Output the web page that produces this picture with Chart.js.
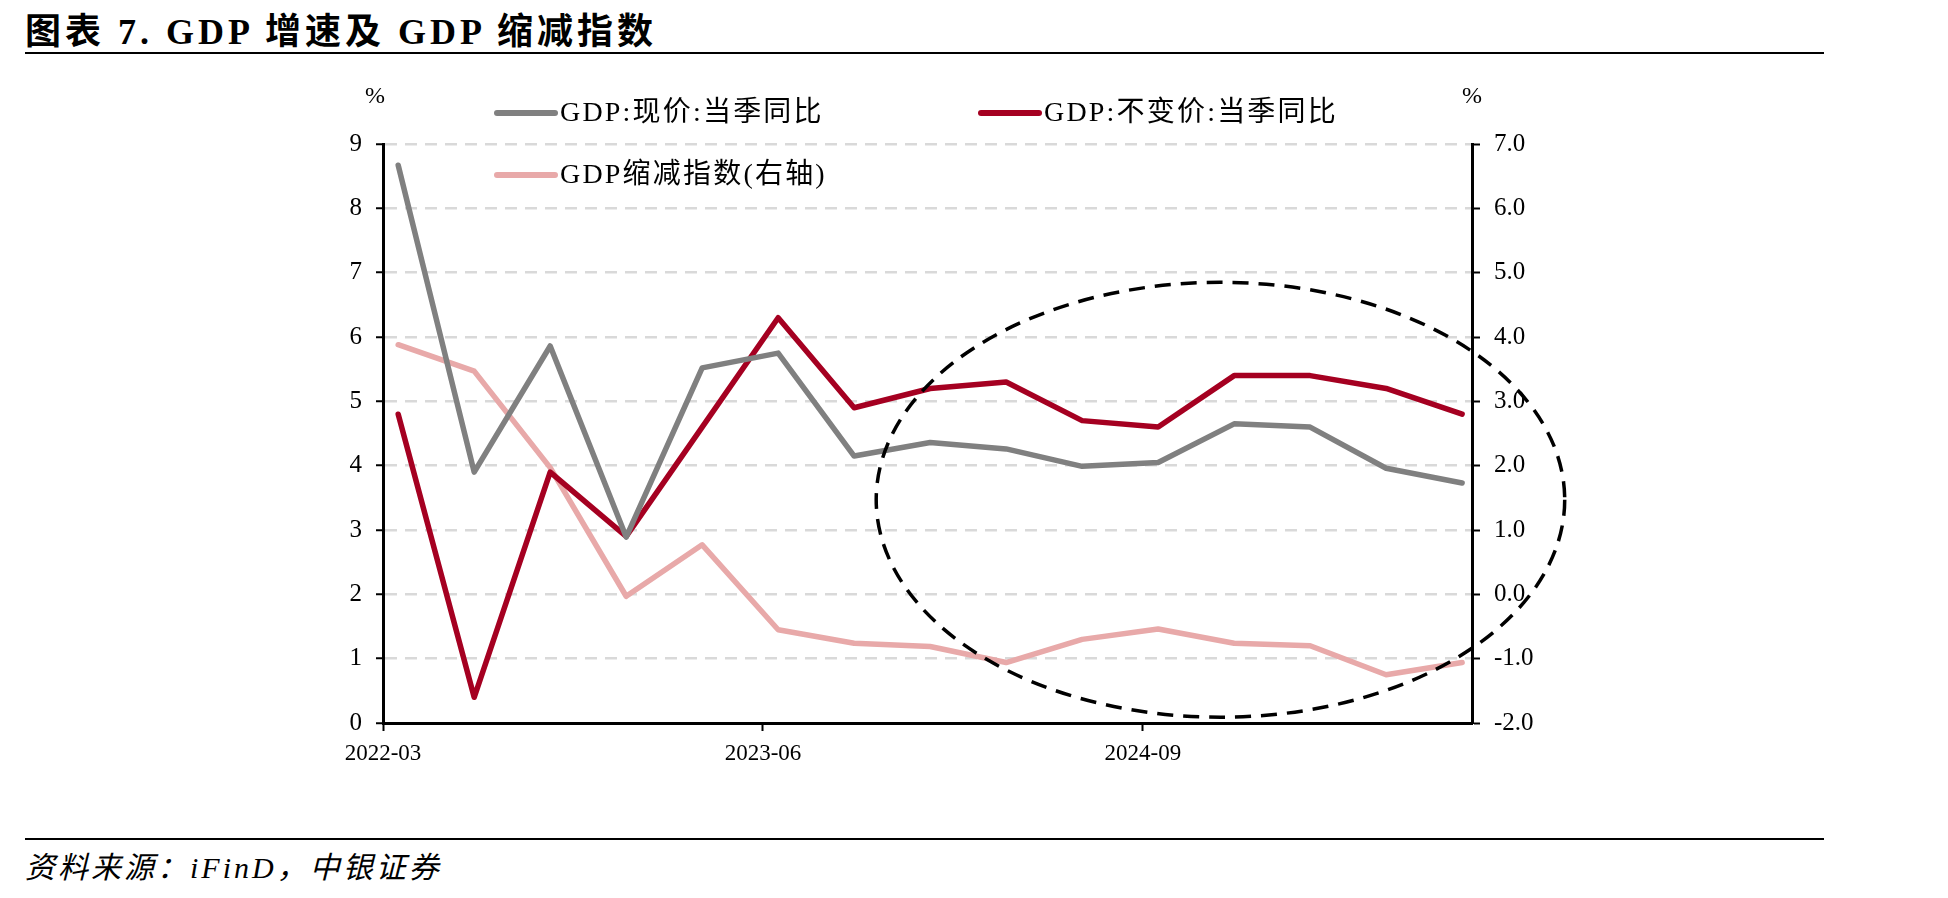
<!DOCTYPE html>
<html><head><meta charset="utf-8">
<script src="https://cdn.jsdelivr.net/npm/chart.js@4"></script>
<style>
html,body{margin:0;padding:0;background:#fff;}
#wrap{position:relative;width:1948px;height:898px;overflow:hidden;background:#fff;}
#title{position:absolute;left:25px;top:2px;font:bold 36px "Liberation Serif","Noto Sans CJK SC",serif;letter-spacing:4px;white-space:nowrap;color:#000;}
.rule{position:absolute;left:25px;width:1799px;height:2px;background:#000;}
#src{position:absolute;left:25px;top:843px;font:italic 30px "Liberation Serif","Noto Sans CJK SC",serif;letter-spacing:3px;white-space:nowrap;color:#000;}
canvas{position:absolute;left:0;top:0;}
</style></head>
<body><div id="wrap">
<div id="title">图表 7. GDP 增速及 GDP 缩减指数</div>
<div class="rule" style="top:52px"></div>
<div class="rule" style="top:838px"></div>
<div id="src">资料来源：iFinD，中银证券</div>
<canvas id="c" width="1948" height="898"></canvas>
</div>
<script>
// ---- data ----
const categories = ['2022-03','2022-06','2022-09','2022-12','2023-03','2023-06','2023-09','2023-12','2024-03','2024-06','2024-09','2024-12','2025-03','2025-06','2025-09'];
const nominalGdp = [8.67,3.90,5.86,2.89,5.52,5.75,4.15,4.36,4.26,3.99,4.05,4.65,4.60,3.96,3.73];
const realGdp    = [4.8,0.4,3.9,2.9,4.6,6.3,4.9,5.2,5.3,4.7,4.6,5.4,5.4,5.2,4.8];
const deflator   = [3.88,3.47,1.97,-0.03,0.77,-0.55,-0.76,-0.81,-1.06,-0.70,-0.54,-0.76,-0.80,-1.25,-1.06];
const seriesNames = ['GDP:现价:当季同比','GDP:不变价:当季同比','GDP缩减指数(右轴)'];
const xTickLabels = ['2022-03','2023-06','2024-09'];
const leftRange = [0, 9];
const rightRange = [-2, 7];

// ---- style ----
const FONT = '"Liberation Serif","Noto Sans CJK SC",serif';
const COLORS = ['#808080', '#A50021', '#E8A9A9'];
const X_SHIFT = -0.2;          // tick marks sit slightly before the quarter point
const X_MIN = -0.2, X_MAX = 14.13;

const toXY = arr => arr.map((v, i) => ({x: i, y: v}));

const legendPlugin = {
  id: 'customLegend',
  afterDraw(chart) {
    const ctx = chart.ctx;
    const items = [
      {i: 0, x: 497, y: 113},
      {i: 1, x: 981, y: 113},
      {i: 2, x: 497, y: 175}
    ];
    ctx.save();
    ctx.font = '28px ' + FONT;
    if ('letterSpacing' in ctx) ctx.letterSpacing = '2.2px';
    ctx.textBaseline = 'middle';
    ctx.fillStyle = '#000';
    items.forEach(it => {
      const ds = chart.data.datasets[it.i];
      ctx.strokeStyle = ds.borderColor;
      ctx.lineWidth = 6;
      ctx.lineCap = 'round';
      ctx.beginPath();
      ctx.moveTo(it.x, it.y);
      ctx.lineTo(it.x + 58, it.y);
      ctx.stroke();
      ctx.fillText(ds.label, it.x + 63, it.y + 1);
    });
    if ('letterSpacing' in ctx) ctx.letterSpacing = '0px';
    // unit labels
    ctx.font = '24px ' + FONT;
    ctx.textAlign = 'center';
    ctx.fillText('%', chart.chartArea.left - 8, 97);
    ctx.fillText('%', chart.chartArea.right, 97);
    ctx.restore();
  }
};

const ellipsePlugin = {
  id: 'ellipse',
  afterDraw(chart) {
    const xs = chart.scales.x, ys = chart.scales.y;
    const E = {cx: 10.82, cy: 3.47, rx: 4.53, ry: 3.38};
    const cx = xs.getPixelForValue(E.cx), cy = ys.getPixelForValue(E.cy);
    const rx = xs.getPixelForValue(E.cx + E.rx) - cx;
    const ry = cy - ys.getPixelForValue(E.cy + E.ry);
    const ctx = chart.ctx;
    ctx.save();
    ctx.strokeStyle = '#000';
    ctx.lineWidth = 3.5;
    ctx.setLineDash([16, 10]);
    ctx.beginPath();
    ctx.ellipse(cx, cy, rx, ry, 0, 0, Math.PI * 2);
    ctx.stroke();
    ctx.restore();
  }
};

Chart.defaults.font.family = FONT;
Chart.defaults.color = '#000';

new Chart(document.getElementById('c'), {
  type: 'line',
  data: {
    datasets: [
      {label: seriesNames[0], data: toXY(nominalGdp), yAxisID: 'y', borderColor: COLORS[0]},
      {label: seriesNames[1], data: toXY(realGdp), yAxisID: 'y', borderColor: COLORS[1]},
      {label: seriesNames[2], data: toXY(deflator), yAxisID: 'y1', borderColor: COLORS[2]}
    ]
  },
  options: {
    responsive: false,
    animation: false,
    devicePixelRatio: 1,
    layout: {padding: {left: 323, right: 376, top: 144, bottom: 115}},
    elements: {
      line: {borderWidth: 5.5, tension: 0, borderCapStyle: 'round', borderJoinStyle: 'round', fill: false},
      point: {radius: 0, hoverRadius: 0}
    },
    plugins: {legend: {display: false}, tooltip: {enabled: false}},
    scales: {
      x: {
        type: 'linear', position: 'bottom', min: X_MIN, max: X_MAX,
        afterFit: s => { s.height = 60; },
        afterBuildTicks: s => { s.ticks = xTickLabels.map(l => ({value: categories.indexOf(l) + X_SHIFT})); },
        ticks: {callback: (v, i) => xTickLabels[i], font: {size: 23}, padding: 9, maxRotation: 0, autoSkip: false},
        grid: {drawOnChartArea: false, tickColor: '#000', tickWidth: 2, tickLength: 8},
        border: {color: '#000', width: 3}
      },
      y: {
        position: 'left', min: leftRange[0], max: leftRange[1],
        afterFit: s => { s.width = 60; },
        ticks: {stepSize: 1, font: {size: 25}, padding: 14},
        grid: {color: '#D9D9D9', lineWidth: 2.5, tickColor: '#000', tickWidth: 2, tickLength: 7},
        border: {color: '#000', width: 3, dash: [12, 8]}
      },
      y1: {
        position: 'right', min: rightRange[0], max: rightRange[1],
        afterFit: s => { s.width = 100; },
        ticks: {stepSize: 1, font: {size: 25}, padding: 14, callback: v => v.toFixed(1)},
        grid: {drawOnChartArea: false, tickColor: '#000', tickWidth: 2, tickLength: 8},
        border: {color: '#000', width: 3}
      }
    }
  },
  plugins: [legendPlugin, ellipsePlugin]
});
</script>
</body></html>
